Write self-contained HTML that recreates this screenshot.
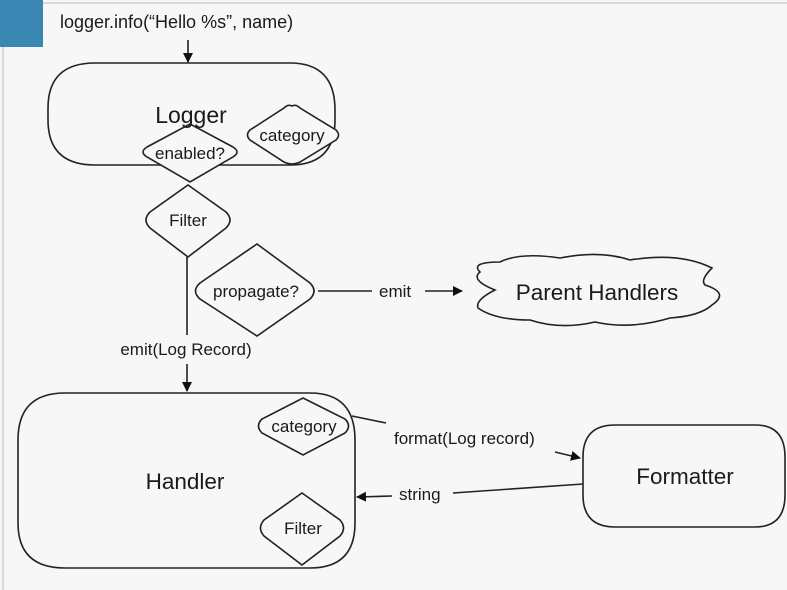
<!DOCTYPE html>
<html><head><meta charset="utf-8"><style>
html,body{margin:0;padding:0;background:#f7f7f7;}
svg{display:block;}
text{font-family:"Liberation Sans",sans-serif;fill:#1a1a1a;}
</style></head><body>
<svg width="787" height="590" viewBox="0 0 787 590" xmlns="http://www.w3.org/2000/svg">
<defs><marker id="a" markerWidth="10" markerHeight="10" refX="9" refY="5" orient="auto" markerUnits="userSpaceOnUse"><path d="M0,0 L10,5 L0,10 z" fill="#111"/></marker></defs>
<rect width="787" height="590" fill="#f7f7f7"/>
<line x1="0" y1="3" x2="787" y2="3" stroke="#bbb"/>
<line x1="3" y1="0" x2="3" y2="590" stroke="#bbb"/>
<rect x="0" y="0" width="43" height="47" fill="#3b87b4"/>
<g stroke="#222" stroke-width="1.6" fill="none">
<line x1="188" y1="40" x2="188" y2="62" marker-end="url(#a)"/>
<path d="M95,63 H290 Q335,63 335,110 V120 Q335,165 290,165 H95 Q48,165 48,120 V108 Q48,63 95,63 Z" fill="#f7f7f7"/>
<path d="M292,106 Q296,104 300,108 L336,130 Q341,135 336,140 L300,162 Q292,166 284,162 L250,140 Q245,135 250,130 L284,108 Q288,104 292,106 Z" fill="#f7f7f7"/>
<path d="M190,124 L233,147 Q241,152 233,157 L190,182 L147,157 Q139,152 147,147 Z" fill="#f7f7f7"/>
<path d="M188,185 L226,212 Q234,220 226,228 L188,257 L150,228 Q142,220 150,212 Z" fill="#f7f7f7"/>
<line x1="187" y1="257" x2="187" y2="335"/>
<path d="M257,244 L310,283 Q318,291 310,299 L257,336 L200,299 Q191,291 200,283 Z" fill="#f7f7f7"/>
<line x1="318" y1="291" x2="372" y2="291"/>
<line x1="425" y1="291" x2="462" y2="291" marker-end="url(#a)"/>
<path d="M480,272 Q470,262 500,262 Q520,252 560,258 Q600,250 630,260 Q680,252 712,268 Q700,280 705,285 Q730,293 712,305 Q700,316 670,318 Q630,330 595,322 Q560,330 530,320 Q495,320 478,308 Q475,300 495,290 Q470,280 480,272 Z" fill="#f7f7f7"/>
<line x1="187" y1="364" x2="187" y2="391" marker-end="url(#a)"/>
<path d="M65,393 H310 Q355,393 355,440 V523 Q355,568 310,568 H65 Q18,568 18,523 V440 Q18,393 65,393 Z" fill="#f7f7f7"/>
<path d="M303,398 L345,419 Q352,426 345,433 L303,455 L262,433 Q255,426 262,419 Z" fill="#f7f7f7"/>
<path d="M302,493 L340,520 Q347,528 340,536 L302,565 L264,536 Q257,528 264,520 Z" fill="#f7f7f7"/>
<path d="M615,425 H755 Q785,425 785,457 V495 Q785,527 755,527 H615 Q583,527 583,495 V457 Q583,425 615,425 Z" fill="#f7f7f7"/>
<line x1="352" y1="416" x2="386" y2="423"/>
<line x1="555" y1="452" x2="580" y2="458" marker-end="url(#a)"/>
<line x1="583" y1="484" x2="453" y2="493"/>
<line x1="392" y1="496" x2="357" y2="497" marker-end="url(#a)"/>
</g>
<text x="60" y="28" font-size="18">logger.info(“Hello %s”, name)</text>
<text x="191" y="123" font-size="23" text-anchor="middle">Logger</text>
<text x="292" y="141" font-size="17" text-anchor="middle">category</text>
<text x="190" y="159" font-size="17" text-anchor="middle">enabled?</text>
<text x="188" y="226" font-size="17" text-anchor="middle">Filter</text>
<text x="256" y="297" font-size="17" text-anchor="middle">propagate?</text>
<text x="379" y="297" font-size="17">emit</text>
<text x="597" y="300" font-size="22.5" text-anchor="middle">Parent Handlers</text>
<text x="186" y="355" font-size="17" text-anchor="middle">emit(Log Record)</text>
<text x="185" y="489" font-size="22.5" text-anchor="middle">Handler</text>
<text x="304" y="432" font-size="17" text-anchor="middle">category</text>
<text x="303" y="534" font-size="17" text-anchor="middle">Filter</text>
<text x="394" y="444" font-size="17">format(Log record)</text>
<text x="399" y="500" font-size="17">string</text>
<text x="685" y="484" font-size="22.5" text-anchor="middle">Formatter</text>
</svg>
</body></html>
